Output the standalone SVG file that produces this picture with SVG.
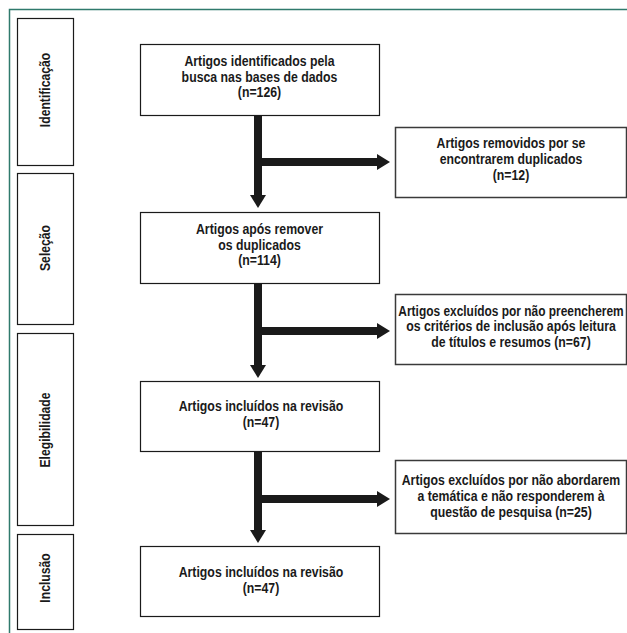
<svg xmlns="http://www.w3.org/2000/svg" width="627" height="633" viewBox="0 0 627 633">
<style>
.bg{fill:#ffffff}
.frame{fill:none;stroke:#2f7a6c;stroke-width:1.5}
.box{fill:#ffffff;stroke:#1a1a1a;stroke-width:1.2}
.sbox{fill:#ffffff;stroke:#3a3a3a;stroke-width:1.5}
.stage{fill:#ffffff;stroke:#1a1a1a;stroke-width:1.2}
text{font-family:"Liberation Sans",Arial,sans-serif;font-weight:bold;font-size:14.3px;fill:#1a1a1a;text-anchor:middle}
.lbl{font-size:14px}
.conn{fill:none;stroke:#1a1a1a;stroke-width:8;stroke-linecap:butt;stroke-linejoin:miter}
</style>
<defs>
<marker id="ah" markerUnits="userSpaceOnUse" markerWidth="14" markerHeight="18" refX="0" refY="8" orient="auto">
<path d="M0,0 L13,8 L0,16 z" fill="#1a1a1a"/>
</marker>
</defs>
<rect class="bg" x="0" y="0" width="627" height="633"/>
<path class="frame" d="M9.5,640 V9.5 H640"/>

<g id="stage-identificacao">
<rect class="stage" x="17.5" y="18.5" width="56" height="147"/>
<text class="lbl" transform="translate(50,90) rotate(-90) scale(0.87,1)">Identificação</text>
</g>
<g id="stage-selecao">
<rect class="stage" x="17.5" y="173.5" width="56" height="151"/>
<text class="lbl" transform="translate(50,248) rotate(-90) scale(0.87,1)">Seleção</text>
</g>
<g id="stage-elegibilidade">
<rect class="stage" x="17.5" y="333.5" width="56" height="192"/>
<text class="lbl" transform="translate(50,430) rotate(-90) scale(0.87,1)">Elegibilidade</text>
</g>
<g id="stage-inclusao">
<rect class="stage" x="17.5" y="534.5" width="56" height="95"/>
<text class="lbl" transform="translate(50,578) rotate(-90) scale(0.87,1)">Inclusão</text>
</g>

<g id="connectors">
<path class="conn" d="M258,115 V195" marker-end="url(#ah)"/>
<path class="conn" d="M258,162 H377" marker-end="url(#ah)"/>
<path class="conn" d="M258,283 V365" marker-end="url(#ah)"/>
<path class="conn" d="M258,331 H377" marker-end="url(#ah)"/>
<path class="conn" d="M258,451 V530" marker-end="url(#ah)"/>
<path class="conn" d="M258,499 H377" marker-end="url(#ah)"/>
</g>

<g id="n-identificados">
<rect class="box" x="140.5" y="44.5" width="239" height="71"/>
<text transform="translate(259.5,66) scale(0.86,1)">Artigos identificados pela</text>
<text transform="translate(259.5,82) scale(0.86,1)">busca nas bases de dados</text>
<text transform="translate(259.5,97) scale(0.86,1)">(n=126)</text>
</g>
<g id="n-removidos">
<rect class="sbox" x="395.5" y="127.5" width="231" height="70"/>
<text transform="translate(511,148) scale(0.86,1)">Artigos removidos por se</text>
<text transform="translate(511,164) scale(0.86,1)">encontrarem duplicados</text>
<text transform="translate(511,180) scale(0.86,1)">(n=12)</text>
</g>
<g id="n-apos-remover">
<rect class="box" x="140.5" y="212.5" width="239" height="71"/>
<text transform="translate(259.5,234) scale(0.86,1)">Artigos após remover</text>
<text transform="translate(259.5,250) scale(0.86,1)">os duplicados</text>
<text transform="translate(259.5,265) scale(0.86,1)">(n=114)</text>
</g>
<g id="n-excluidos-criterios">
<rect class="sbox" x="395.5" y="294.5" width="231" height="70"/>
<text transform="translate(511,316) scale(0.835,1)">Artigos excluídos por não preencherem</text>
<text transform="translate(511,331) scale(0.86,1)">os critérios de inclusão após leitura</text>
<text transform="translate(511,347) scale(0.86,1)">de títulos e resumos (n=67)</text>
</g>
<g id="n-incluidos-1">
<rect class="box" x="140.5" y="381.5" width="239" height="70"/>
<text transform="translate(261,411) scale(0.86,1)">Artigos incluídos na revisão</text>
<text transform="translate(261,427) scale(0.86,1)">(n=47)</text>
</g>
<g id="n-excluidos-tematica">
<rect class="sbox" x="395.5" y="460.5" width="231" height="73"/>
<text transform="translate(511,485) scale(0.86,1)">Artigos excluídos por não abordarem</text>
<text transform="translate(511,501) scale(0.86,1)">a temática e não responderem à</text>
<text transform="translate(511,517) scale(0.86,1)">questão de pesquisa (n=25)</text>
</g>
<g id="n-incluidos-2">
<rect class="box" x="140.5" y="546.5" width="239" height="70"/>
<text transform="translate(261,577) scale(0.86,1)">Artigos incluídos na revisão</text>
<text transform="translate(261,593) scale(0.86,1)">(n=47)</text>
</g>
</svg>
